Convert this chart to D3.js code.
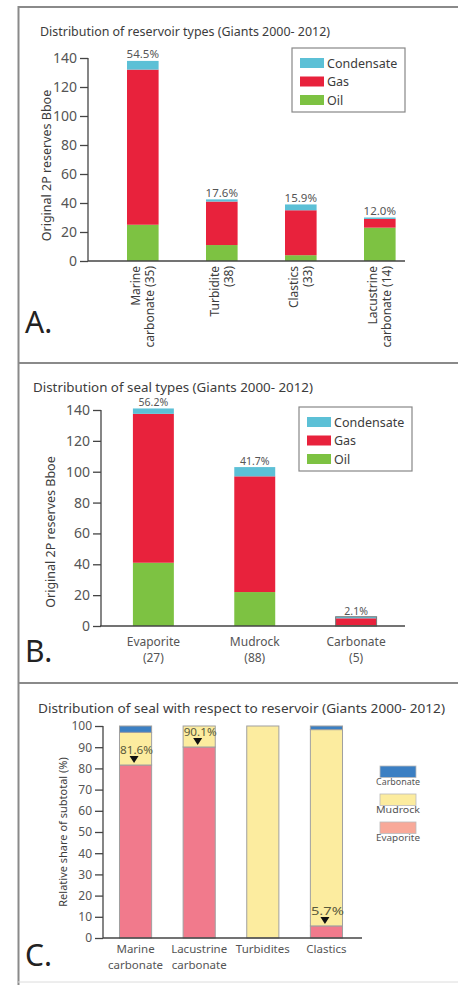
<!DOCTYPE html>
<html>
<head>
<meta charset="utf-8">
<script src="https://cdn.jsdelivr.net/npm/d3@7"></script>
<style>
  html, body { margin: 0; padding: 0; background: #fff; }
  svg { display: block; font-family: "Noto Sans", "DejaVu Sans", sans-serif; }
</style>
</head>
<body>
<svg id="chart" width="462" height="985"></svg>
<script>
// ---- Panel A: reservoir types (Giants 2000-2012), Bboe ----
const reservoirLabels = [["Marine", "carbonate (35)"], ["Turbidite", "(38)"], ["Clastics", "(33)"], ["Lacustrine", "carbonate (14)"]];
const reservoirOil = [25, 11, 4, 23];
const reservoirGas = [107, 30, 31, 6];
const reservoirCondensate = [6, 1.5, 4, 1];
const reservoirShare = ["54.5%", "17.6%", "15.9%", "12.0%"];

// ---- Panel B: seal types (Giants 2000-2012), Bboe ----
const sealLabels = [["Evaporite", "(27)"], ["Mudrock", "(88)"], ["Carbonate", "(5)"]];
const sealOil = [41, 22, 0.5];
const sealGas = [96.5, 75, 4.5];
const sealCondensate = [3.5, 6, 1];
const sealShare = ["56.2%", "41.7%", "2.1%"];

// ---- Panel C: seal share per reservoir (%) ----
const reservoirGroups = [["Marine", "carbonate"], ["Lacustrine", "carbonate"], ["Turbidites"], ["Clastics"]];
const evaporiteShare = [81.6, 90.1, 0, 5.7];
const mudrockShare = [15.4, 9.9, 100, 92.6];
const carbonateShare = [3.0, 0, 0, 1.7];
const evaporiteMarkers = ["81.6%", "90.1%", null, "5.7%"];

const ticksReserves = [0, 20, 40, 60, 80, 100, 120, 140];
const ticksPercent = [0, 10, 20, 30, 40, 50, 60, 70, 80, 90, 100];

const fluidKeys = ["Oil", "Gas", "Condensate"];
const fluidColor = d3.scaleOrdinal().domain(fluidKeys).range(["#7dc242", "#e8223c", "#5cc0d6"]);
const sealKeys = ["Evaporite", "Mudrock", "Carbonate"];
const sealColor = d3.scaleOrdinal().domain(sealKeys).range(["#f17a8c", "#fcec9f", "#3b7fc3"]);
const sealLegendColor = d3.scaleOrdinal().domain(sealKeys).range(["#f8a999", "#fcec9f", "#3b7fc3"]);

const svg = d3.select("#chart");
const textColor = "#3c3c3c";
const tickColor = "#555";

// ---- outer frame and panel separators ----
const frame = svg.append("g").attr("stroke", "#8a8a8a").attr("stroke-width", 2).attr("fill", "none");
frame.append("line").attr("x1", 18.5).attr("x2", 18.5).attr("y1", 6).attr("y2", 985);
frame.append("line").attr("x1", 18).attr("x2", 458).attr("y1", 7).attr("y2", 7);
frame.append("line").attr("x1", 18).attr("x2", 458).attr("y1", 363).attr("y2", 363);
frame.append("line").attr("x1", 18).attr("x2", 458).attr("y1", 683).attr("y2", 683);
frame.append("line").attr("x1", 18).attr("x2", 458).attr("y1", 982).attr("y2", 982).attr("stroke", "#dcdcdc").attr("stroke-width", 1);

function title(text, x, y, width) {
  svg.append("text").attr("x", x).attr("y", y).attr("fill", textColor)
    .attr("font-size", 12).attr("textLength", width).attr("lengthAdjust", "spacingAndGlyphs")
    .text(text);
}
function panelLetter(text, x, y) {
  svg.append("text").attr("x", x).attr("y", y).attr("fill", "#222")
    .attr("font-size", 30).text(text);
}
function yAxis(g, y, x, ticks, fontSize) {
  const axis = d3.axisLeft(y).tickValues(ticks).tickSize(8).tickPadding(3);
  const a = g.append("g").attr("transform", `translate(${x},0)`).call(axis);
  a.select(".domain").attr("stroke", "#444").attr("stroke-width", 1.3).attr("d", `M0,${y.range()[0]}V${y.range()[1]}`);
  a.selectAll(".tick line").attr("stroke", "#444").attr("stroke-width", 1.3);
  a.selectAll(".tick text").attr("fill", tickColor).attr("font-size", fontSize).attr("font-family", "Noto Sans, sans-serif");
  return a;
}
function xBaseline(g, x0, x1, y) {
  g.append("line").attr("x1", x0).attr("x2", x1).attr("y1", y).attr("y2", y)
    .attr("stroke", "#444").attr("stroke-width", 1.3);
}
function stackedBars(g, rows, keys, x, y, color, stroke) {
  const series = d3.stack().keys(keys)(rows);
  g.selectAll("g.series").data(series).join("g").attr("class", "series")
    .attr("fill", d => color(d.key))
    .selectAll("rect").data(d => d.filter(p => p[1] - p[0] > 0)).join("rect")
    .attr("x", d => x(d.data.name))
    .attr("width", x.bandwidth())
    .attr("y", d => y(d[1]))
    .attr("height", d => y(d[0]) - y(d[1]))
    .attr("stroke", stroke || "none")
    .attr("stroke-width", stroke ? 1 : 0);
}
function legendBox(g, x, y, keys, color) {
  g.append("rect").attr("x", x).attr("y", y).attr("width", 113).attr("height", 64)
    .attr("fill", "#fff").attr("stroke", "#888").attr("stroke-width", 1.2);
  keys.forEach((k, i) => {
    const ry = y + 10 + i * 18.5;
    g.append("rect").attr("x", x + 8).attr("y", ry).attr("width", 24).attr("height", 10).attr("fill", color(k));
    g.append("text").attr("x", x + 35).attr("y", ry + 9.5).attr("fill", textColor)
      .attr("font-size", 12.5).text(k);
  });
}

// ================= Panel A =================
{
  const g = svg.append("g");
  const rows = reservoirLabels.map((l, i) => ({ name: l.join(" "), Oil: reservoirOil[i], Gas: reservoirGas[i], Condensate: reservoirCondensate[i] }));
  const x = d3.scaleBand().domain(rows.map(r => r.name)).range([103.3, 419.3]).paddingInner(0.6).paddingOuter(0.3);
  const y = d3.scaleLinear().domain([0, 140]).range([261, 58]);
  title("Distribution of reservoir types (Giants 2000- 2012)", 40, 36, 290);
  yAxis(g, y, 88, ticksReserves, 14);
  g.append("text").attr("transform", `translate(51,${(y(0) + y(140)) / 2 + 6}) rotate(-90)`)
    .attr("text-anchor", "middle").attr("fill", textColor).attr("font-size", 12.5)
    .text("Original 2P reserves Bboe");
  stackedBars(g, rows, fluidKeys, x, y, fluidColor);
  xBaseline(g, 88, 405, y(0));
  rows.forEach((r, i) => {
    const total = reservoirOil[i] + reservoirGas[i] + reservoirCondensate[i];
    g.append("text").attr("x", x(r.name) + x.bandwidth() / 2).attr("y", y(total) - 2.5)
      .attr("text-anchor", "middle").attr("fill", tickColor).attr("font-size", 11.5).text(reservoirShare[i]);
    const cx = x(r.name) + x.bandwidth() / 2;
    const t = g.append("text").attr("transform", `translate(${cx},${y(0) + 5}) rotate(-90)`)
      .attr("text-anchor", "end").attr("fill", textColor).attr("font-size", 12);
    reservoirLabels[i].forEach((line, j) => {
      t.append("tspan").attr("x", 0).attr("y", (j - (reservoirLabels[i].length - 1) / 2) * 14.5 + 4).text(line);
    });
  });
  legendBox(g, 292, 48, ["Condensate", "Gas", "Oil"], fluidColor);
  panelLetter("A.", 25, 333);
}

// ================= Panel B =================
{
  const g = svg.append("g");
  const rows = sealLabels.map((l, i) => ({ name: l.join(" "), Oil: sealOil[i], Gas: sealGas[i], Condensate: sealCondensate[i] }));
  const x = d3.scaleBand().domain(rows.map(r => r.name)).range([102.5, 407]).paddingInner(0.596).paddingOuter(0.3);
  const y = d3.scaleLinear().domain([0, 140]).range([626, 410]);
  title("Distribution of seal types (Giants 2000- 2012)", 33, 392, 280);
  yAxis(g, y, 101, ticksReserves, 14);
  g.append("text").attr("transform", `translate(55,${(y(0) + y(140)) / 2 + 14}) rotate(-90)`)
    .attr("text-anchor", "middle").attr("fill", textColor).attr("font-size", 12.5)
    .text("Original 2P reserves Bboe");
  stackedBars(g, rows, fluidKeys, x, y, fluidColor);
  // the small carbonate bar carries a grey outline
  const last = rows[rows.length - 1];
  const lastTotal = sealOil[2] + sealGas[2] + sealCondensate[2];
  g.append("rect").attr("x", x(last.name)).attr("width", x.bandwidth())
    .attr("y", y(lastTotal)).attr("height", y(0) - y(lastTotal))
    .attr("fill", "none").attr("stroke", "#777").attr("stroke-width", 1);
  xBaseline(g, 100, 405, y(0));
  rows.forEach((r, i) => {
    const total = sealOil[i] + sealGas[i] + sealCondensate[i];
    const cx = x(r.name) + x.bandwidth() / 2;
    g.append("text").attr("x", cx).attr("y", y(total) - 2)
      .attr("text-anchor", "middle").attr("fill", tickColor).attr("font-size", 10.5).text(sealShare[i]);
    sealLabels[i].forEach((line, j) => {
      g.append("text").attr("x", cx).attr("y", y(0) + 20 + j * 16)
        .attr("text-anchor", "middle").attr("fill", "#555").attr("font-size", 12).text(line);
    });
  });
  legendBox(g, 299, 407, ["Condensate", "Gas", "Oil"], fluidColor);
  panelLetter("B.", 25, 662);
}

// ================= Panel C =================
{
  const g = svg.append("g");
  const rows = reservoirGroups.map((l, i) => ({ name: l.join(" "), Evaporite: evaporiteShare[i], Mudrock: mudrockShare[i], Carbonate: carbonateShare[i] }));
  const x = d3.scaleBand().domain(rows.map(r => r.name)).range([100.4, 361.6]).paddingInner(0.495).paddingOuter(0.3);
  const y = d3.scaleLinear().domain([0, 100]).range([938, 726]);
  title("Distribution of seal with respect to reservoir  (Giants 2000- 2012)", 38, 713, 407);
  yAxis(g, y, 103, ticksPercent, 12);
  g.append("text").attr("transform", `translate(67,${(y(0) + y(100)) / 2}) rotate(-90)`)
    .attr("text-anchor", "middle").attr("fill", textColor).attr("font-size", 11)
    .text("Relative share of subtotal (%)");
  stackedBars(g, rows, sealKeys, x, y, sealColor, "#a0a0a0");
  xBaseline(g, 103, 362, y(0));
  rows.forEach((r, i) => {
    const cx = x(r.name) + x.bandwidth() / 2;
    reservoirGroups[i].forEach((line, j) => {
      g.append("text").attr("x", cx).attr("y", y(0) + 15 + j * 16)
        .attr("text-anchor", "middle").attr("fill", "#555").attr("font-size", 11.5).text(line);
    });
    if (evaporiteMarkers[i]) {
      const tipY = y(evaporiteShare[i]) - 2;
      const tx = cx - 1.5;
      g.append("path").attr("d", `M${tx - 4.5},${tipY - 7}L${tx + 4.5},${tipY - 7}L${tx},${tipY}Z`).attr("fill", "#111");
      g.append("text").attr("x", cx + 1).attr("y", tipY - 9)
        .attr("text-anchor", "middle").attr("fill", "#5a5a3c").attr("font-size", 10.5)
        .attr("textLength", 33).attr("lengthAdjust", "spacingAndGlyphs").text(evaporiteMarkers[i]);
    }
  });
  // legend: swatch above label, top to bottom
  ["Carbonate", "Mudrock", "Evaporite"].forEach((k, i) => {
    const sy = 766 + i * 28;
    g.append("rect").attr("x", 380).attr("y", sy).attr("width", 36).attr("height", 11.5)
      .attr("fill", sealLegendColor(k)).attr("stroke", "#bbb").attr("stroke-width", 0.8);
    g.append("text").attr("x", 398).attr("y", sy + 19).attr("text-anchor", "middle")
      .attr("fill", "#555").attr("font-size", 9).attr("textLength", 44).attr("lengthAdjust", "spacingAndGlyphs").text(k);
  });
  panelLetter("C.", 25, 966);
}
</script>
</body>
</html>
